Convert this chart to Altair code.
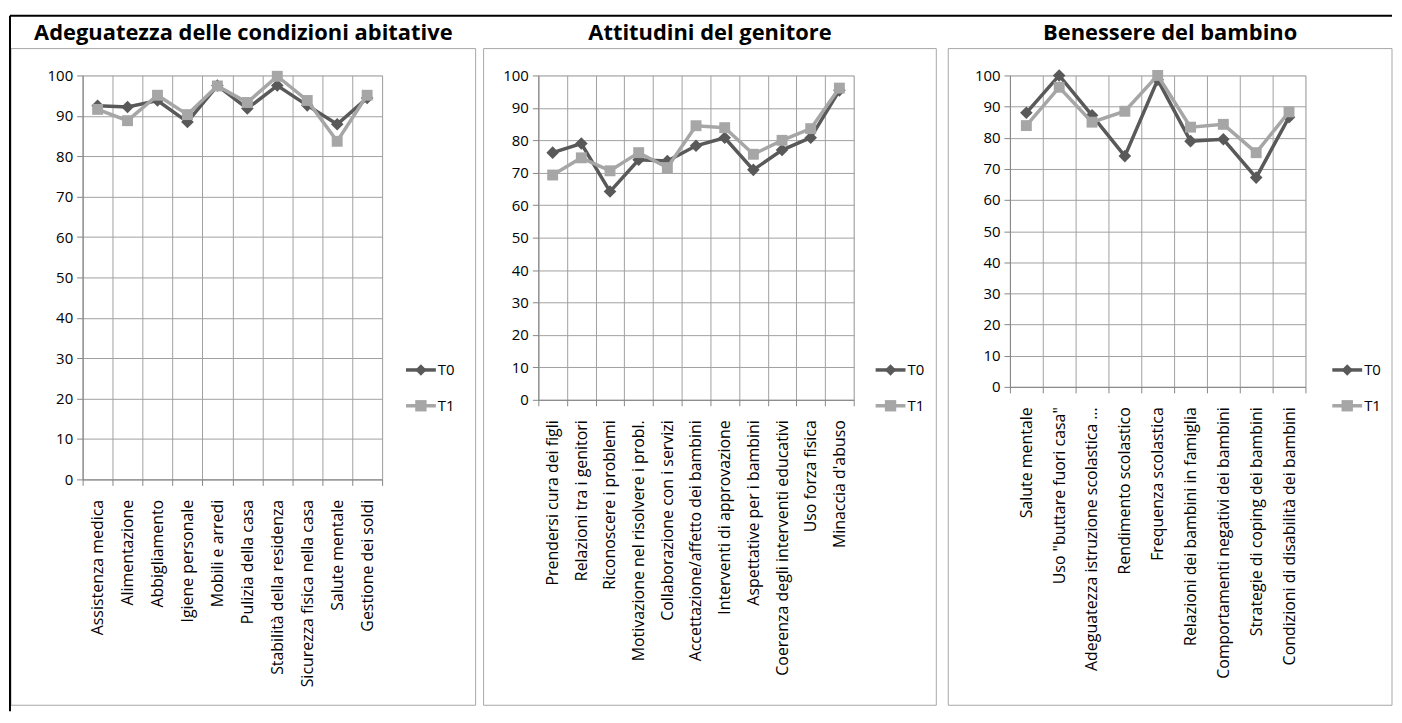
import altair as alt
import pandas as pd

SERIES = ["T0", "T1"]
COLORS = ["#595959", "#a6a6a6"]
SHAPES = ["diamond", "square"]

title1 = "Adeguatezza delle condizioni abitative"
cats1 = ["Assistenza medica", "Alimentazione", "Abbigliamento", "Igiene personale",
         "Mobili e arredi", "Pulizia della casa", "Stabilità della residenza",
         "Sicurezza fisica nella casa", "Salute mentale", "Gestione dei soldi"]
t0_1 = [92.5, 92.2, 93.8, 88.5, 97.5, 91.8, 97.5, 92.6, 87.9, 94.4]
t1_1 = [91.6, 88.8, 95.1, 90.3, 97.4, 93.3, 99.8, 93.8, 83.7, 95.1]

title2 = "Attitudini del genitore"
cats2 = ["Prendersi cura dei figli", "Relazioni tra i genitori", "Riconoscere i problemi",
         "Motivazione nel risolvere i probl.", "Collaborazione  con i servizi",
         "Accettazione/affetto  dei bambini", "Interventi di approvazione",
         "Aspettative per i bambini", "Coerenza degli interventi educativi",
         "Uso forza fisica", "Minaccia d'abuso"]
t0_2 = [76.2, 79.0, 64.2, 74.0, 73.6, 78.3, 80.8, 70.9, 77.0, 80.8, 95.4]
t1_2 = [69.3, 74.6, 70.6, 76.2, 71.6, 84.5, 83.9, 75.7, 80.0, 83.6, 96.1]

title3 = "Benessere del bambino"
cats3 = ["Salute mentale", "Uso \"buttare fuori casa\"", "Adeguatezza istruzione scolastica …",
         "Rendimento scolastico", "Frequenza scolastica", "Relazioni dei bambini in famiglia",
         "Comportamenti negativi dei bambini", "Strategie di coping dei bambini",
         "Condizioni di disabilità dei bambini"]
t0_3 = [88.0, 100.0, 87.2, 74.1, 98.6, 78.9, 79.5, 67.2, 86.6]
t1_3 = [83.9, 96.2, 85.0, 88.5, 100.0, 83.4, 84.3, 75.2, 88.3]

y_ticks = list(range(0, 101, 10))

GRID = "#a0a0a0"
AXIS = "#868686"
BOX = "#a6a6a6"
LABEL_FONT = "Open Sans"

color_scale = alt.Scale(domain=SERIES, range=COLORS)


def long_df(cats, t0, t1):
    rows = []
    for i, (c, a, b) in enumerate(zip(cats, t0, t1)):
        rows.append({"cat": c, "idx": i, "series": "T0", "value": a})
        rows.append({"cat": c, "idx": i, "series": "T1", "value": b})
    return pd.DataFrame(rows)


def panel(title, cats, t0, t1, W, H, box, legend_dx, frame=False):
    df = long_df(cats, t0, t1)
    x = alt.X("cat:N", sort=cats,
              scale=alt.Scale(paddingInner=0, paddingOuter=0),
              axis=alt.Axis(title=None, labelAngle=-90, labelFont=LABEL_FONT, labelFontSize=16,
                            labelColor="black", labelLimit=400, labelPadding=14,
                            tickBand="extent", grid=True, gridColor=GRID, tickColor=AXIS,
                            domainColor=AXIS, tickSize=6, labelOverlap=False))
    y = alt.Y("value:Q", scale=alt.Scale(domain=[0, 100], nice=False),
              axis=alt.Axis(title=None, values=y_ticks, grid=True, gridColor=GRID,
                            tickColor=AXIS, domainColor=AXIS, tickSize=6,
                            labelFont=LABEL_FONT, labelFontSize=15, labelColor="black",
                            labelPadding=4))
    color = alt.Color("series:N", scale=color_scale, legend=None)
    base = alt.Chart(df)
    layers = []
    for s, shp, sz in zip(SERIES, SHAPES, [160, 120]):
        sub = base.transform_filter(alt.datum.series == s)
        layers.append(sub.mark_line(strokeWidth=3.5).encode(
            x=x, y=y, color=color, order=alt.Order("idx:Q")))
        layers.append(sub.mark_point(filled=True, opacity=1, shape=shp, size=sz).encode(
            x=x, y=y, color=color))
    main = alt.layer(*layers)

    leg_df = pd.DataFrame({"series": SERIES})
    ly = alt.Y("series:N", scale=alt.Scale(type="point", domain=SERIES, range=[296, 332], padding=0),
               axis=None)
    leg = alt.Chart(leg_df)
    legend = alt.layer(
        leg.mark_rule(strokeWidth=3.5).encode(
            x=alt.value(W + legend_dx), x2=alt.value(W + legend_dx + 30), y=ly, color=color),
        leg.mark_point(filled=True, opacity=1, size=130).encode(
            x=alt.value(W + legend_dx + 15), y=ly, color=color,
            shape=alt.Shape("series:N", scale=alt.Scale(domain=SERIES, range=SHAPES), legend=None)),
        leg.mark_text(align="left", baseline="middle", fontSize=15, font=LABEL_FONT,
                      color="black").encode(
            x=alt.value(W + legend_dx + 32), y=ly, text="series:N"),
    )

    one = pd.DataFrame({"k": [0], "title": [title]})
    deco = [alt.Chart(one).mark_rect(fillOpacity=0, stroke=BOX, strokeWidth=1).encode(
        x=alt.value(box[0]), x2=alt.value(box[1]), y=alt.value(box[2]), y2=alt.value(box[3]))]
    if frame:
        deco.append(alt.Chart(one).mark_rule(color="black", strokeWidth=2).encode(
            x=alt.value(-73), x2=alt.value(1316), y=alt.value(-60)))
        deco.append(alt.Chart(one).mark_rule(color="black", strokeWidth=2).encode(
            x=alt.value(-73), y=alt.value(-60), y2=alt.value(639)))
    deco.append(alt.Chart(one).mark_text(align="center", baseline="alphabetic", font=LABEL_FONT,
                                         fontSize=22, fontWeight="bold", color="black").encode(
        x=alt.value((box[0] + box[1]) / 2), y=alt.value(-36), text="title:N"))

    return alt.layer(*deco, main, legend).resolve_scale(y="independent").properties(
        width=W, height=H)


p1 = panel(title1, cats1, t0_1, t1_1, 301, 406, (-72, 395, -27, 633), 24, frame=True)
p2 = panel(title2, cats2, t0_2, t1_2, 317, 326, (-55, 400, -27, 633), 22)
p3 = panel(title3, cats3, t0_3, t1_3, 297, 313, (-62, 384, -27, 633), 27)

chart = alt.hconcat(p1, p2, p3, spacing=157, bounds="flush").properties(
    padding={"left": 0, "top": 4, "right": 0, "bottom": 0}
).configure_view(stroke=GRID).configure(background="white")

chart.save("out.html", embed_options={"renderer": "svg", "actions": False})
